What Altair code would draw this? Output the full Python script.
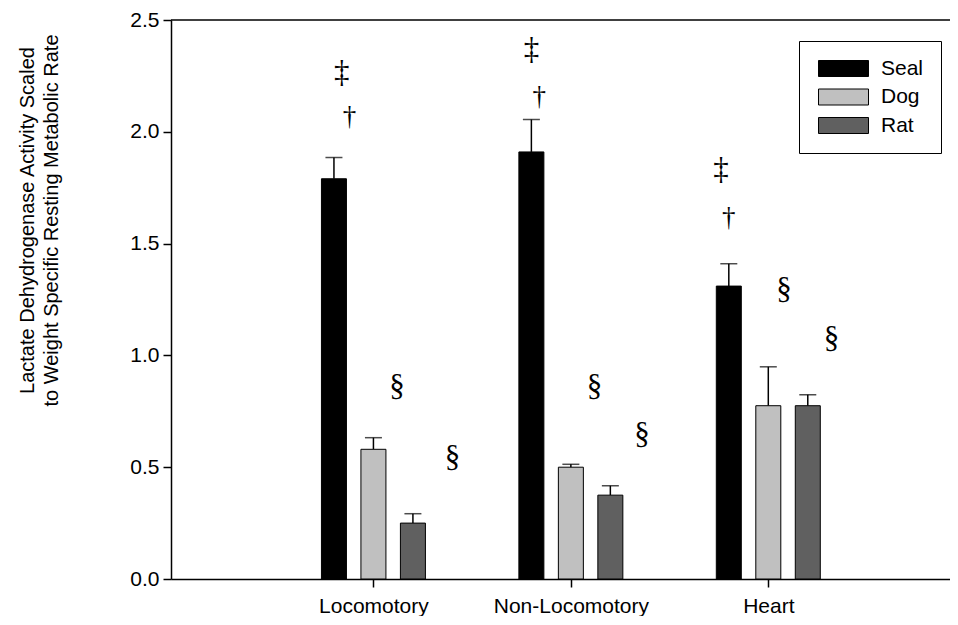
import altair as alt
import pandas as pd

# ---- data ----
groups = ["Locomotory", "Non-Locomotory", "Heart"]
group_pos = [1, 2, 3]
species = ["Seal", "Dog", "Rat"]
species_offset = [-0.2, 0.0, 0.2]
colors = ["#000000", "#c0c0c0", "#606060"]

seal_mean = [1.79, 1.91, 1.31]
dog_mean = [0.58, 0.50, 0.775]
rat_mean = [0.25, 0.375, 0.775]
seal_err = [0.095, 0.145, 0.10]
dog_err = [0.052, 0.013, 0.174]
rat_err = [0.042, 0.042, 0.049]

# significance symbols (annotation text)
ann_sym = ["‡", "†", "§", "§", "‡", "†", "§", "§", "‡", "†", "§", "§"]
ann_x = [0.84, 0.879, 1.12, 1.40, 1.80, 1.84, 2.12, 2.36, 2.76, 2.80, 3.08, 3.32]
ann_y = [2.263, 2.066, 0.859, 0.541, 2.366, 2.156, 0.859, 0.644, 1.829, 1.614, 1.292, 1.073]
ann_fs = [31 if s != "†" else 27 for s in ann_sym]

y_ticks = [0, 0.5, 1.0, 1.5, 2.0, 2.5]
y_title = ["Lactate Dehydrogenase Activity Scaled",
           "to Weight Specific Resting Metabolic Rate"]

# ---- tables ----
means = [seal_mean, dog_mean, rat_mean]
errs = [seal_err, dog_err, rat_err]
rows = []
for si, sp in enumerate(species):
    for gi, g in enumerate(groups):
        m = means[si][gi]
        rows.append({
            "group": g,
            "species": sp,
            "x": group_pos[gi] + species_offset[si],
            "mean": m,
            "upper": m + errs[si][gi],
        })
df = pd.DataFrame(rows)
ann = pd.DataFrame({"sym": ann_sym, "ax": ann_x, "ay": ann_y, "fs": ann_fs})
top = pd.DataFrame({"top": [2.5]})

label_expr = " : ".join(
    [f"datum.value == {p} ? '{g}'" for p, g in zip(group_pos[:-1], groups[:-1])]
) + f" : '{groups[-1]}'"

xscale = alt.Scale(domain=[0, 3.895], nice=False, zero=False)
yscale = alt.Scale(domain=[0, 2.5], nice=False)

xaxis = alt.Axis(values=group_pos, labelExpr=label_expr, title=None,
                 tickSize=8, labelPadding=8, labelFontSize=21,
                 labelFont="Liberation Sans", labelColor="black",
                 domainColor="black", tickColor="black",
                 domainWidth=1.5, tickWidth=1.5, grid=False)
yaxis = alt.Axis(values=y_ticks, format=".1f", title=y_title,
                 tickSize=8, labelPadding=4, labelFontSize=21,
                 labelFont="Liberation Sans", labelColor="black",
                 domainColor="black", tickColor="black",
                 domainWidth=1.5, tickWidth=1.5, grid=False,
                 titleFont="Liberation Sans", titleFontSize=20,
                 titleFontWeight="normal", titleColor="black",
                 titleLineHeight=24, titleX=-154, titleY=200,
                 titleAlign="center", titleBaseline="top", titleAngle=270)

base = alt.Chart(df)

bars = base.mark_bar(size=25, stroke="black", strokeWidth=1).encode(
    x=alt.X("x:Q", scale=xscale, axis=xaxis),
    y=alt.Y("mean:Q", scale=yscale, axis=yaxis),
    color=alt.Color(
        "species:N",
        scale=alt.Scale(domain=species, range=colors),
        sort=species,
        legend=alt.Legend(
            title=None, orient="none", legendX=628, legendY=21,
            padding=17, strokeColor="black", fillColor="white",
            labelFont="Liberation Sans", labelFontSize=21, labelColor="black",
            symbolType="M-1,-1H5.25V1H-1Z", symbolSize=256,
            symbolStrokeColor="black", symbolStrokeWidth=1,
            symbolOpacity=1, labelOffset=44, rowPadding=6.5,
        ),
    ),
)

err_line = base.mark_rule(color="black", strokeWidth=1.5).encode(
    x="x:Q", y="mean:Q", y2="upper:Q"
)
err_cap = base.mark_tick(orient="horizontal", size=17, thickness=1.5,
                         color="black").encode(x="x:Q", y="upper:Q")

top_line = alt.Chart(top).mark_rule(color="black", strokeWidth=1.5).encode(
    y="top:Q"
)

symbols = alt.Chart(ann).mark_text(
    font="Liberation Serif", baseline="middle", align="center", color="black"
).encode(
    x="ax:Q", y="ay:Q", text="sym:N", size=alt.Size("fs:Q", scale=None)
)

chart = alt.layer(top_line, err_line, err_cap, bars, symbols).properties(
    width=779, height=559,
    autosize=alt.AutoSizeParams(type="none"),
    padding={"left": 163, "top": 12, "right": 0, "bottom": 37},
    background="white",
).configure_view(stroke=None)

chart.save("out.html", embed_options={"renderer": "svg", "actions": False})
